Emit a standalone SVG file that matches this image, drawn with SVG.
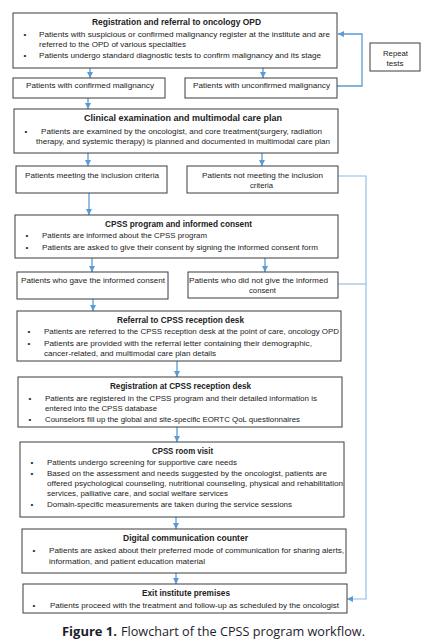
<svg xmlns="http://www.w3.org/2000/svg" width="430" height="644" viewBox="0 0 430 644">
<defs>
<style>
.box{fill:#fff;stroke:#3c3c3c;stroke-width:1}
.t{font-family:"Liberation Sans",Arial,sans-serif;font-size:8px;fill:#222}
.h{font-family:"Liberation Sans",Arial,sans-serif;font-size:8.5px;font-weight:bold;fill:#222}
.c{stroke:#5b9bd5;stroke-width:1.3;fill:none}
.cl{stroke:#8dbbe6;stroke-width:1.1;fill:none}
.cap{font-family:"Open Sans","Noto Sans",sans-serif;font-size:12.5px;fill:#1c1c2c}
</style>
<marker id="ah" markerUnits="userSpaceOnUse" markerWidth="7" markerHeight="6" refX="6" refY="3" orient="auto">
<path d="M0,0 L6,3 L0,6 z" fill="#5b9bd5"/>
</marker>
</defs>
<rect width="430" height="644" fill="#fff"/>

<g id="connectors">
<line class="c" x1="90" y1="68" x2="90" y2="78" marker-end="url(#ah)"/>
<line class="c" x1="263" y1="68" x2="263" y2="78" marker-end="url(#ah)"/>
<polyline class="c" points="337,86 362,86 362,34 338,34" marker-end="url(#ah)"/>
<line class="c" x1="88" y1="98" x2="88" y2="109" marker-end="url(#ah)"/>
<line class="c" x1="88" y1="153" x2="88" y2="166" marker-end="url(#ah)"/>
<line class="c" x1="262" y1="153" x2="262" y2="166" marker-end="url(#ah)"/>
<line class="c" x1="89" y1="193" x2="89" y2="215" marker-end="url(#ah)"/>
<line class="c" x1="92" y1="258" x2="92" y2="272" marker-end="url(#ah)"/>
<line class="c" x1="265" y1="258" x2="265" y2="272" marker-end="url(#ah)"/>
<line class="c" x1="93" y1="299" x2="93" y2="311" marker-end="url(#ah)"/>
<line class="c" x1="177" y1="361" x2="177" y2="377" marker-end="url(#ah)"/>
<line class="c" x1="177" y1="427" x2="177" y2="442" marker-end="url(#ah)"/>
<line class="c" x1="176" y1="517" x2="176" y2="529" marker-end="url(#ah)"/>
<line class="c" x1="176" y1="573" x2="176" y2="584" marker-end="url(#ah)"/>
<polyline class="cl" points="338,176 366,176 366,599 347,599" marker-end="url(#ah)"/>
<line class="cl" x1="338" y1="284" x2="366" y2="284"/>
</g>

<g id="registration-referral">
<rect class="box" x="13" y="13" width="324" height="55"/>
<text class="h" x="92" y="25" textLength="169" lengthAdjust="spacingAndGlyphs">Registration and referral to oncology OPD</text>
<text class="t" x="23.6" y="37">•</text>
<text class="t" x="39" y="37" textLength="291" lengthAdjust="spacingAndGlyphs">Patients with suspicious or confirmed malignancy register at the institute and are</text>
<text class="t" x="39" y="46.5" textLength="147" lengthAdjust="spacingAndGlyphs">referred to the OPD of various specialties</text>
<text class="t" x="23.6" y="57.5">•</text>
<text class="t" x="39" y="57.5" textLength="282" lengthAdjust="spacingAndGlyphs">Patients undergo standard diagnostic tests to confirm malignancy and its stage</text>
</g>

<g id="repeat-tests">
<rect class="box" x="370" y="43" width="50" height="28"/>
<text class="t" x="383" y="56" textLength="25" lengthAdjust="spacingAndGlyphs">Repeat</text>
<text class="t" x="386.5" y="66" textLength="17" lengthAdjust="spacingAndGlyphs">tests</text>
</g>

<g id="confirmed">
<rect class="box" x="13" y="78" width="152" height="20"/>
<text class="t" x="26" y="88" textLength="128" lengthAdjust="spacingAndGlyphs">Patients with confirmed malignancy</text>
</g>

<g id="unconfirmed">
<rect class="box" x="185" y="78" width="152" height="20"/>
<text class="t" x="193" y="88" textLength="137" lengthAdjust="spacingAndGlyphs">Patients with unconfirmed malignancy</text>
</g>

<g id="clinical-exam">
<rect class="box" x="14" y="109" width="324" height="44"/>
<text class="h" x="84" y="121" textLength="198" lengthAdjust="spacingAndGlyphs">Clinical examination and multimodal care plan</text>
<text class="t" x="24.6" y="134">•</text>
<text class="t" x="41" y="134" textLength="281" lengthAdjust="spacingAndGlyphs">Patients are examined by the oncologist, and core treatment(surgery, radiation</text>
<text class="t" x="36" y="144" textLength="294" lengthAdjust="spacingAndGlyphs">therapy, and systemic therapy) is planned and documented in multimodal care plan</text>
</g>

<g id="meeting-criteria">
<rect class="box" x="16" y="166" width="151" height="27"/>
<text class="t" x="25" y="178" textLength="134" lengthAdjust="spacingAndGlyphs">Patients meeting the inclusion criteria</text>
</g>

<g id="not-meeting-criteria">
<rect class="box" x="187" y="166" width="151" height="27"/>
<text class="t" x="202" y="178" textLength="121" lengthAdjust="spacingAndGlyphs">Patients not meeting the inclusion</text>
<text class="t" x="250" y="188" textLength="23" lengthAdjust="spacingAndGlyphs">criteria</text>
</g>

<g id="cpss-consent">
<rect class="box" x="15" y="215" width="323" height="43"/>
<text class="h" x="105" y="227" textLength="147" lengthAdjust="spacingAndGlyphs">CPSS program and informed consent</text>
<text class="t" x="25.6" y="238">•</text>
<text class="t" x="42" y="238" textLength="165" lengthAdjust="spacingAndGlyphs">Patients are informed about the CPSS program</text>
<text class="t" x="25.6" y="250">•</text>
<text class="t" x="42" y="250" textLength="276" lengthAdjust="spacingAndGlyphs">Patients are asked to give their consent by signing the informed consent form</text>
</g>

<g id="gave-consent">
<rect class="box" x="17" y="272" width="151" height="27"/>
<text class="t" x="21" y="283" textLength="144" lengthAdjust="spacingAndGlyphs">Patients who gave the informed consent</text>
</g>

<g id="no-consent">
<rect class="box" x="188" y="272" width="150" height="26"/>
<text class="t" x="189" y="283" textLength="139" lengthAdjust="spacingAndGlyphs">Patients who did not give the informed</text>
<text class="t" x="249" y="293" textLength="27" lengthAdjust="spacingAndGlyphs">consent</text>
</g>

<g id="referral-cpss">
<rect class="box" x="17" y="311" width="324" height="50"/>
<text class="h" x="117" y="323" textLength="127" lengthAdjust="spacingAndGlyphs">Referral to CPSS reception desk</text>
<text class="t" x="27.6" y="334">•</text>
<text class="t" x="44" y="334" textLength="295" lengthAdjust="spacingAndGlyphs">Patients are referred to the CPSS reception desk at the point of care, oncology OPD</text>
<text class="t" x="27.6" y="346">•</text>
<text class="t" x="44" y="346" textLength="268" lengthAdjust="spacingAndGlyphs">Patients are provided with the referral letter containing their demographic,</text>
<text class="t" x="44" y="356" textLength="172" lengthAdjust="spacingAndGlyphs">cancer-related, and multimodal care plan details</text>
</g>

<g id="registration-cpss">
<rect class="box" x="18" y="377" width="324" height="50"/>
<text class="h" x="110" y="389" textLength="141" lengthAdjust="spacingAndGlyphs">Registration at CPSS reception desk</text>
<text class="t" x="28.6" y="401">•</text>
<text class="t" x="45" y="401" textLength="272" lengthAdjust="spacingAndGlyphs">Patients are registered in the CPSS program and their detailed information is</text>
<text class="t" x="45" y="411" textLength="112" lengthAdjust="spacingAndGlyphs">entered into the CPSS database</text>
<text class="t" x="28.6" y="422">•</text>
<text class="t" x="45" y="422" textLength="255" lengthAdjust="spacingAndGlyphs">Counselors fill up the global and site-specific EORTC QoL questionnaires</text>
</g>

<g id="room-visit">
<rect class="box" x="20" y="442" width="324" height="75"/>
<text class="h" x="152" y="454" textLength="61" lengthAdjust="spacingAndGlyphs">CPSS room visit</text>
<text class="t" x="30.6" y="465">•</text>
<text class="t" x="47" y="465" textLength="190" lengthAdjust="spacingAndGlyphs">Patients undergo screening for supportive care needs</text>
<text class="t" x="30.6" y="476">•</text>
<text class="t" x="47" y="476" textLength="280" lengthAdjust="spacingAndGlyphs">Based on the assessment and needs  suggested by the oncologist, patients are</text>
<text class="t" x="47" y="486" textLength="296" lengthAdjust="spacingAndGlyphs">offered psychological counseling, nutritional counseling, physical and rehabilitation</text>
<text class="t" x="47" y="496" textLength="181" lengthAdjust="spacingAndGlyphs">services, palliative care, and social welfare services</text>
<text class="t" x="30.6" y="507">•</text>
<text class="t" x="47" y="507" textLength="245" lengthAdjust="spacingAndGlyphs">Domain-specific measurements are taken during the service sessions</text>
</g>

<g id="digital-counter">
<rect class="box" x="22" y="529" width="324" height="44"/>
<text class="h" x="123" y="541" textLength="125" lengthAdjust="spacingAndGlyphs">Digital communication counter</text>
<text class="t" x="32.6" y="553">•</text>
<text class="t" x="49" y="553" textLength="295" lengthAdjust="spacingAndGlyphs">Patients are asked about their preferred mode of communication for sharing alerts,</text>
<text class="t" x="49" y="564" textLength="156" lengthAdjust="spacingAndGlyphs">information, and patient education material</text>
</g>

<g id="exit">
<rect class="box" x="23" y="584" width="324" height="29"/>
<text class="h" x="142" y="596" textLength="88" lengthAdjust="spacingAndGlyphs">Exit institute premises</text>
<text class="t" x="32.6" y="608">•</text>
<text class="t" x="50" y="608" textLength="289" lengthAdjust="spacingAndGlyphs">Patients proceed with the treatment and follow-up as scheduled by the oncologist</text>
</g>

<g id="caption">
<text class="cap" x="62" y="636" font-weight="bold" textLength="55" lengthAdjust="spacingAndGlyphs">Figure 1.</text>
<text class="cap" x="121" y="636" textLength="244" lengthAdjust="spacingAndGlyphs">Flowchart of the CPSS program workflow.</text>
</g>
</svg>
